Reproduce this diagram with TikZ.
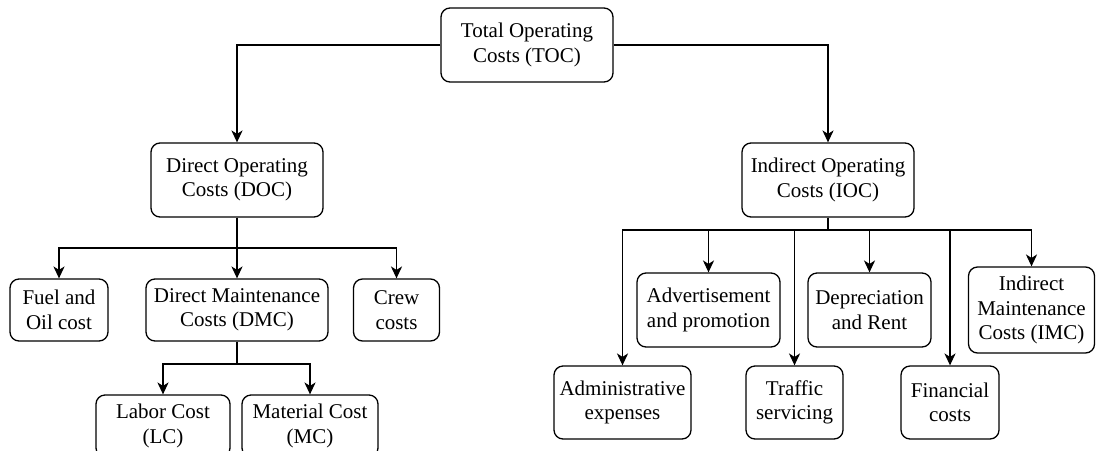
\documentclass[tikz,border=0pt]{standalone}
\usepackage{fontspec}
\setmainfont{Liberation Serif}
\usetikzlibrary{arrows.meta}
\begin{document}
\begin{tikzpicture}[x=0.5pt,y=-0.5pt,
  box/.style={draw, rounded corners=4.5pt, line width=0.65pt, align=center,
    inner sep=0pt, font=\rmfamily\fontsize{10.5}{12.2}\selectfont},
  link/.style={line width=0.65pt, rounded corners=0pt,
    -{Stealth[length=6pt,width=5.6pt,inset=1.8pt]}}]
\clip (0,0) rectangle (1096,450);

% top level
\node[box, minimum width=86pt, minimum height=37pt] (toc) at (527,45) {Total Operating\\Costs (TOC)};

% direct branch
\node[box, minimum width=86pt, minimum height=37pt] (doc) at (237,180) {Direct Operating\\Costs (DOC)};
\node[box, minimum width=49pt, minimum height=31pt] (fuel) at (59,310) {Fuel and\\Oil cost};
\node[box, minimum width=91pt, minimum height=31pt] (dmc) at (237,310) {Direct Maintenance\\Costs (DMC)};
\node[box, minimum width=43pt, minimum height=31pt] (crew) at (396.5,310) {Crew\\costs};
\node[box, minimum width=67pt, minimum height=31pt] (lc) at (163,426) {Labor Cost\\(LC)};
\node[box, minimum width=68pt, minimum height=31pt] (mc) at (310,426) {Material Cost\\(MC)};

% indirect branch
\node[box, minimum width=86pt, minimum height=37pt] (ioc) at (828,180) {Indirect Operating\\Costs (IOC)};
\node[box, minimum width=68.5pt, minimum height=36.5pt] (adm) at (622.5,402.5) {Administrative\\expenses};
\node[box, minimum width=71.5pt, minimum height=37pt] (adv) at (708.5,310) {Advertisement\\and promotion};
\node[box, minimum width=48.5pt, minimum height=36.5pt] (traf) at (794.5,402.5) {Traffic\\servicing};
\node[box, minimum width=61.5pt, minimum height=37pt] (dep) at (869.5,310) {Depreciation\\and Rent};
\node[box, minimum width=49pt, minimum height=36.5pt] (fin) at (950,402.5) {Financial\\costs};
\node[box, minimum width=63pt, minimum height=43pt] (imc) at (1031.5,310) {Indirect\\Maintenance\\Costs (IMC)};

% bus points
\coordinate (db) at (237,248);
\coordinate (mb) at (237,364);
\coordinate (ib) at (828,230);

% connectors
\draw[link] (toc.west) -| (doc.north);
\draw[link] (toc.east) -| (ioc.north);

\draw[link] (doc.south) -- (db) -| (fuel.north);
\draw[link] (doc.south) -- (dmc.north);
\draw[link] (db) -| (crew.north);

\draw[link] (dmc.south) -- (mb) -| (lc.north);
\draw[link] (mb) -| (mc.north);

\draw[link] (ioc.south) -- (ib) -| (adm.north);
\draw[link] (ib) -| (adv.north);
\draw[link] (ib) -| (traf.north);
\draw[link] (ib) -| (dep.north);
\draw[link] (ib) -| (fin.north);
\draw[link] (ib) -| (imc.north);
\end{tikzpicture}
\end{document}
